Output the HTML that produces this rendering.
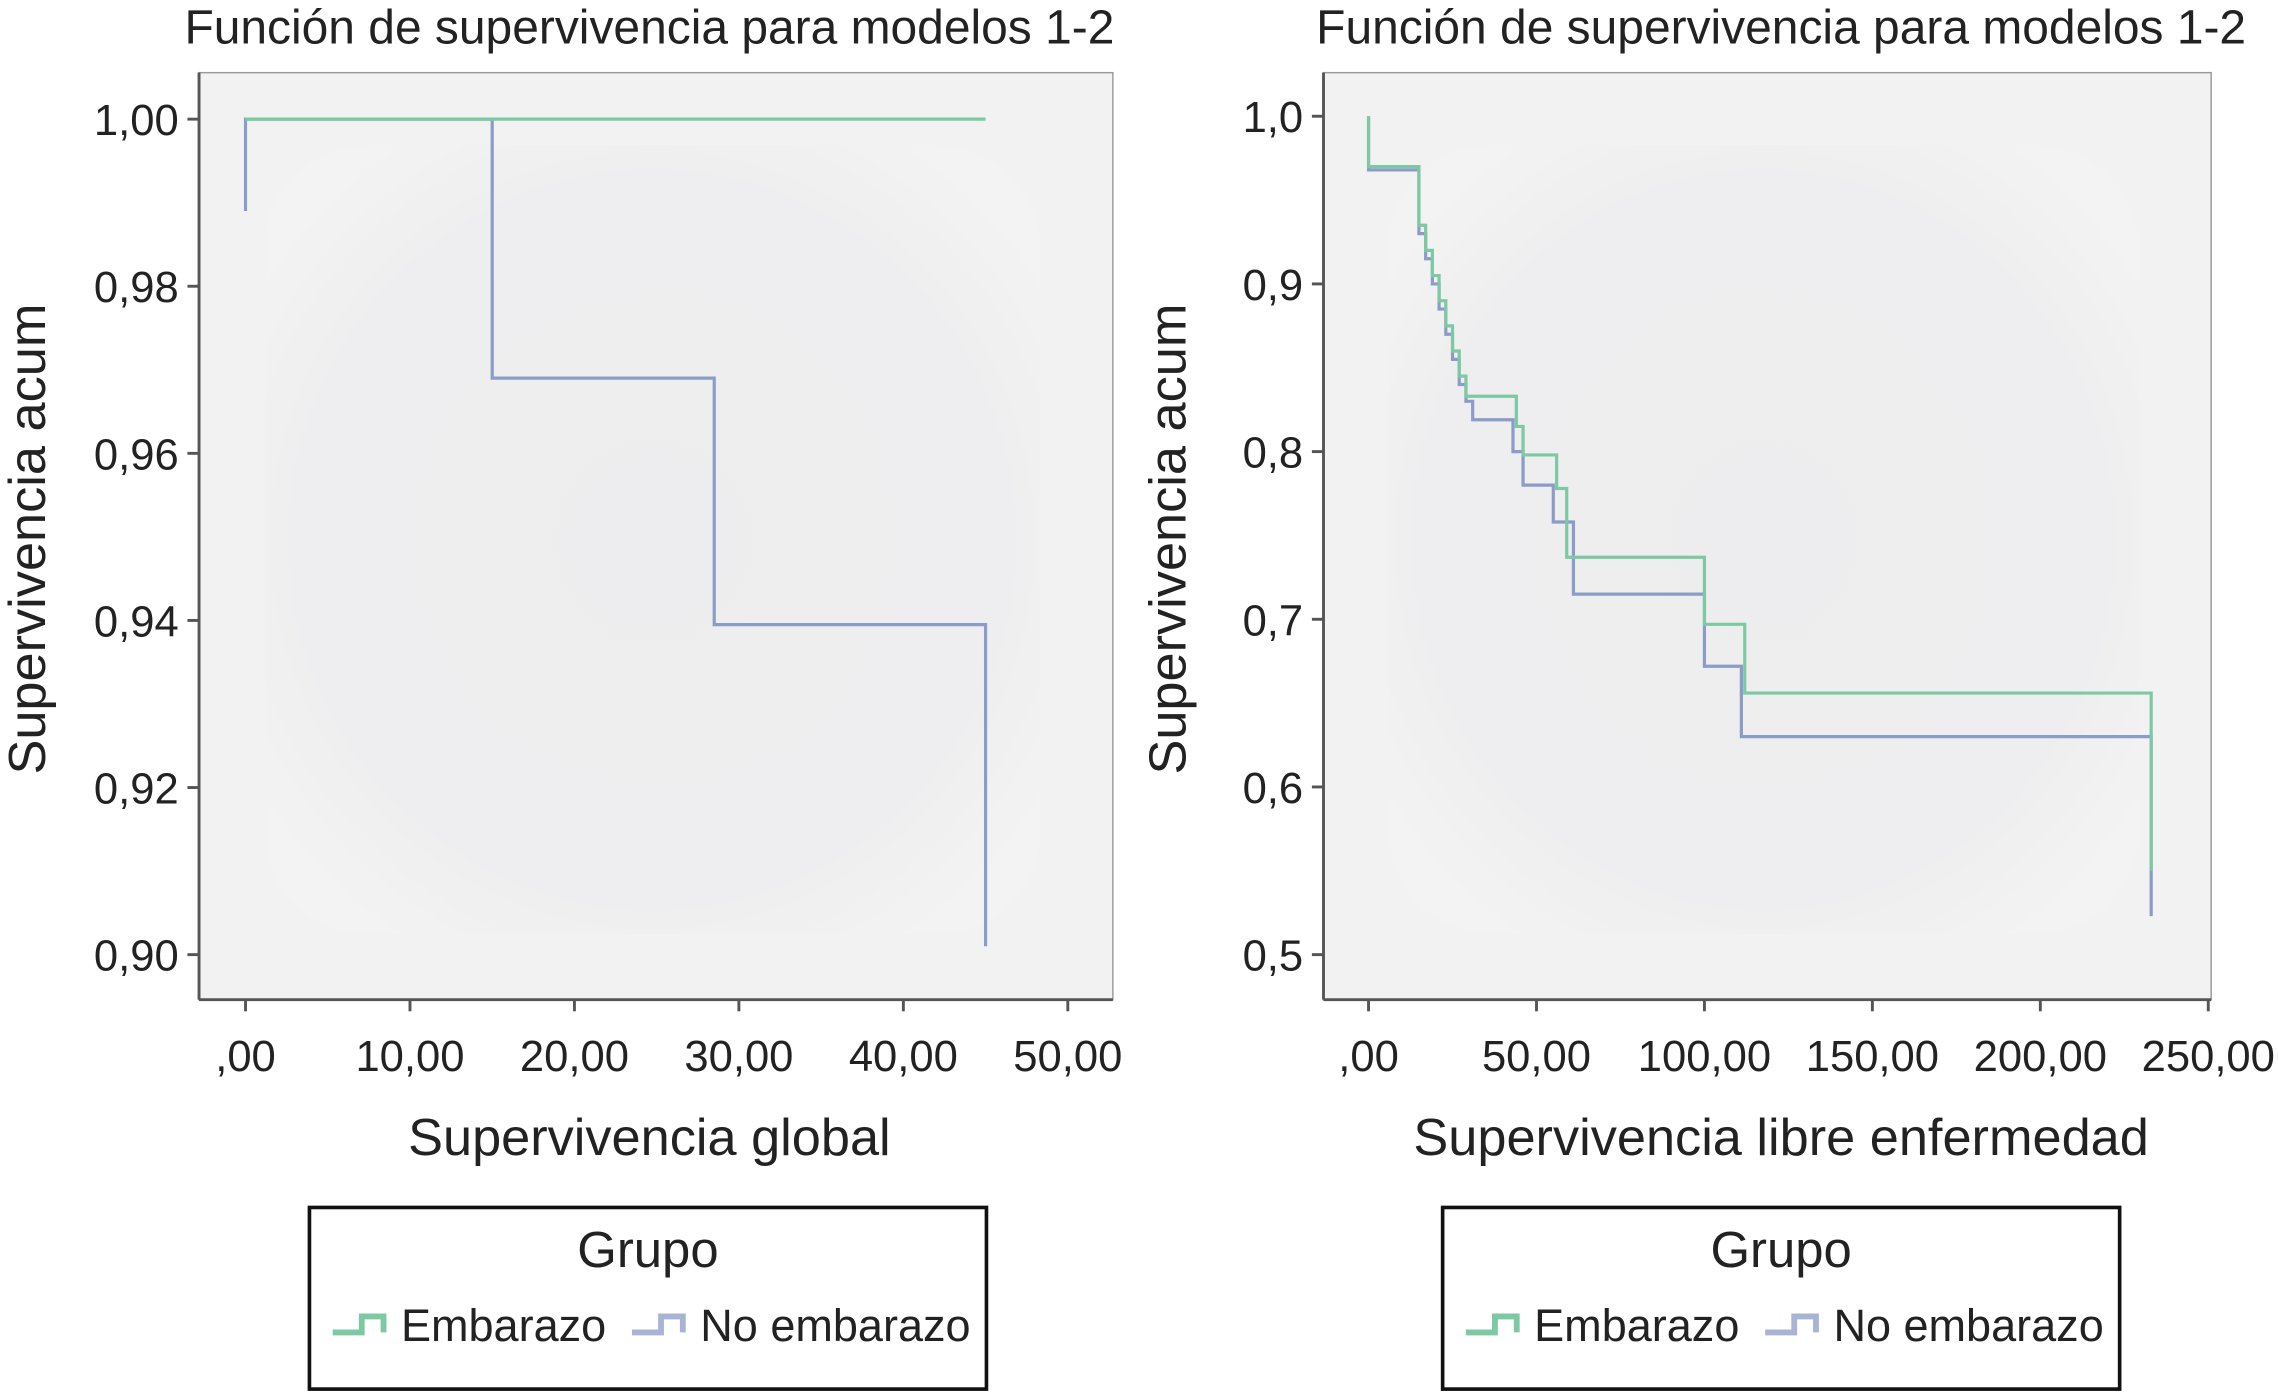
<!DOCTYPE html>
<html><head><meta charset="utf-8"><style>
html,body{margin:0;padding:0;background:#fff;}
svg{display:block;}
text{font-family:"Liberation Sans",Arial,sans-serif;fill:#222;}
</style></head><body>
<svg id="root" width="2278" height="1392" viewBox="0 0 1568 958" preserveAspectRatio="none" xmlns="http://www.w3.org/2000/svg">
<defs>
<radialGradient id="blob" cx="0.5" cy="0.5" r="0.6">
<stop offset="0" stop-color="#ececee"/><stop offset="0.75" stop-color="#ededef"/><stop offset="1" stop-color="#f3f3f3"/>
</radialGradient>
</defs>
<g id="left"></g>
<g id="right"></g>
</svg>
<script>
// Left chart data
const leftXTicks = [0, 10, 20, 30, 40, 50];
const leftXLabels = [",00", "10,00", "20,00", "30,00", "40,00", "50,00"];
const leftYTicks = [1.00, 0.98, 0.96, 0.94, 0.92, 0.90];
const leftYLabels = ["1,00", "0,98", "0,96", "0,94", "0,92", "0,90"];
const leftEmbTimes = [0, 45];
const leftEmbSurv = [1.0, 1.0];
const leftNoTimes = [0, 0, 15, 28.5, 45];
const leftNoSurv = [0.989, 1.0, 0.969, 0.9395, 0.901];

// Right chart data
const rightXTicks = [0, 50, 100, 150, 200, 250];
const rightXLabels = [",00", "50,00", "100,00", "150,00", "200,00", "250,00"];
const rightYTicks = [1.0, 0.9, 0.8, 0.7, 0.6, 0.5];
const rightYLabels = ["1,0", "0,9", "0,8", "0,7", "0,6", "0,5"];
const rightEmbTimes = [0, 0, 15, 17, 19, 21, 23, 25, 27, 29, 31, 44, 46, 56, 59, 61, 100, 112, 233];
const rightEmbSurv = [1.0, 0.97, 0.935, 0.92, 0.905, 0.89, 0.875, 0.86, 0.845, 0.833, 0.833, 0.815, 0.798, 0.778, 0.737, 0.737, 0.697, 0.656, 0.55];
const rightNoTimes = [0, 0, 15, 17, 19, 21, 23, 25, 27, 29, 31, 43, 46, 55, 57, 61, 100, 111, 233];
const rightNoSurv = [1.0, 0.968, 0.93, 0.915, 0.9, 0.885, 0.87, 0.855, 0.84, 0.83, 0.819, 0.8, 0.78, 0.758, 0.758, 0.715, 0.672, 0.63, 0.523];

const NS = "http://www.w3.org/2000/svg";
function mk(tag, attrs, parent) {
  const e = document.createElementNS(NS, tag);
  for (const k in attrs) e.setAttribute(k, attrs[k]);
  parent.appendChild(e);
  return e;
}
function stepPath(times, surv, sx, sy) {
  let d = "M" + sx(times[0]) + "," + sy(surv[0]);
  for (let i = 1; i < times.length; i++) {
    d += " L" + sx(times[i]) + "," + sy(surv[i - 1]) + " L" + sx(times[i]) + "," + sy(surv[i]);
  }
  return d;
}
function drawChart(g, cfg) {
  const {L, R, T, B, x0, x1, px0, px1, y0, y1, py0, py1} = cfg;
  const sx = v => px0 + (v - x0) / (x1 - x0) * (px1 - px0);
  const sy = v => py0 + (v - y0) / (y1 - y0) * (py1 - py0);
  const bg = mk("rect", {x: L, y: T, width: R - L, height: B - T, fill: "#f2f2f2", stroke: "#9a9a9a", "stroke-width": 1}, g);
  
  
  const blob = mk("rect", {x: L + 45, y: T + 50, width: R - L - 95, height: B - T - 95, rx: 70, fill: "url(#blob)", opacity: 0.8}, g);
  
  
  const ax = mk("line", {x1: L, y1: B, x2: R, y2: B, stroke: "#555", "stroke-width": 2}, g);
  
  
  const ay = mk("line", {x1: L, y1: T, x2: L, y2: B, stroke: "#555", "stroke-width": 2}, g);
  
  
  cfg.xTicks.forEach((v, i) => {
    const t = mk("line", {x1: sx(v), y1: B, x2: sx(v), y2: B + 8, stroke: "#555", "stroke-width": 2}, g);
    
    
    const lb = mk("text", {x: sx(v), y: B + 49, "text-anchor": "middle", "font-size": 30}, g);
    lb.textContent = cfg.xLabels[i];
    
    
  });
  cfg.yTicks.forEach((v, i) => {
    const t = mk("line", {x1: L - 8, y1: sy(v), x2: L, y2: sy(v), stroke: "#555", "stroke-width": 2}, g);
    
    
    const lb = mk("text", {x: L - 14, y: sy(v) + 11, "text-anchor": "end", "font-size": 30}, g);
    lb.textContent = cfg.yLabels[i];
    
    
  });
  const pn = mk("path", {d: stepPath(cfg.noT, cfg.noS, sx, sy), fill: "none", stroke: "#8c9cc8", "stroke-width": 2.2}, g);
  
  
  const pe = mk("path", {d: stepPath(cfg.embT, cfg.embS, sx, sy), fill: "none", stroke: "#7dc9a3", "stroke-width": 2.2}, g);
  
  
  const ti = mk("text", {x: cfg.titleX, y: 30, "text-anchor": "middle", "font-size": 33}, g);
  ti.textContent = "Función de supervivencia para modelos 1-2";
  
  
  const xt = mk("text", {x: cfg.xTitleX, y: 795, "text-anchor": "middle", "font-size": 36}, g);
  xt.textContent = cfg.xTitle;
  
  
  const yt = mk("text", {x: 0, y: 0, "text-anchor": "middle", "font-size": 36, transform: "translate(" + cfg.yTitleX + "," + ((T + B) / 2 + 2) + ") rotate(-90)"}, g);
  yt.textContent = "Supervivencia acum";
  
  
  // legend
  const lg = mk("g", {}, g);
  
  
  mk("rect", {x: cfg.legX, y: 831, width: 466, height: 125, fill: "#fff", stroke: "#111", "stroke-width": 2.5}, lg);
  const gt = mk("text", {x: cfg.legX + 233, y: 872, "text-anchor": "middle", "font-size": 35}, lg);
  gt.textContent = "Grupo";
  
  
  const entries = [["Embarazo", "#7dc9a3", 16], ["No embarazo", "#a9b3d6", 222]];
  entries.forEach(en => {
    const eg = mk("g", {}, lg);
    
    
    const bx = cfg.legX + en[2];
    mk("path", {d: "M" + bx + ",917 H" + (bx + 20) + " V906 H" + (bx + 35) + " V917", fill: "none", stroke: en[1], "stroke-width": 4}, eg);
    const et = mk("text", {x: bx + 47, y: 923, "font-size": 31}, eg);
    et.textContent = en[0];
  });
}
drawChart(document.getElementById("left"), {
  L: 137, R: 766, T: 50, B: 688, x0: 0, x1: 50, px0: 169, px1: 735, y0: 1.0, y1: 0.9, py0: 82, py1: 657,
  xTicks: leftXTicks, xLabels: leftXLabels, yTicks: leftYTicks, yLabels: leftYLabels,
  embT: leftEmbTimes, embS: leftEmbSurv, noT: leftNoTimes, noS: leftNoSurv,
  titleX: 447, xTitleX: 447, xTitle: "Supervivencia global", yTitleX: 31, legX: 213
});
drawChart(document.getElementById("right"), {
  L: 911, R: 1522, T: 50, B: 688, x0: 0, x1: 250, px0: 942, px1: 1520, y0: 1.0, y1: 0.5, py0: 80, py1: 657,
  xTicks: rightXTicks, xLabels: rightXLabels, yTicks: rightYTicks, yLabels: rightYLabels,
  embT: rightEmbTimes, embS: rightEmbSurv, noT: rightNoTimes, noS: rightNoSurv,
  titleX: 1226, xTitleX: 1226, xTitle: "Supervivencia libre enfermedad", yTitleX: 816, legX: 993
});
</script>
</body></html>
